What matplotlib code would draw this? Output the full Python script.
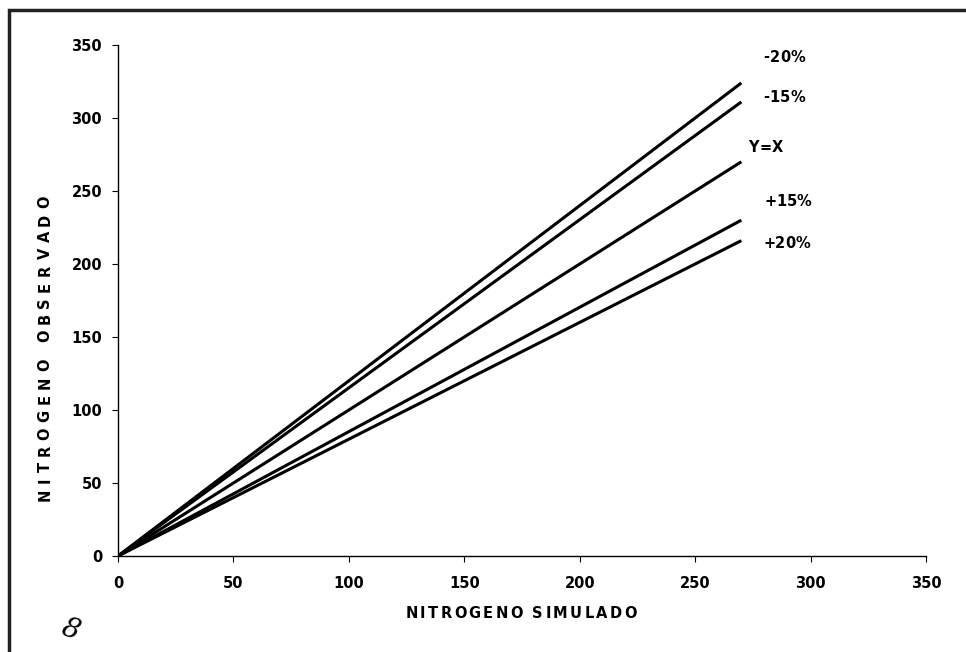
import matplotlib
matplotlib.use('Agg')
import matplotlib.pyplot as plt
from matplotlib.patches import Rectangle
from matplotlib.font_manager import FontProperties
from matplotlib.textpath import TextToPath

plt.rcParams.update({
    'font.family': ['DejaVu Sans'],
    'font.size': 10.5,
    'font.weight': 'bold',
})

# Datos: extremos de las rectas
sim_n = [0, 270]
obs_menos20 = [0, 324]
obs_menos15 = [0, 311]
obs_yx = [0, 270]
obs_mas15 = [0, 230]
obs_mas20 = [0, 216]
series = [obs_menos20, obs_menos15, obs_yx, obs_mas15, obs_mas20]
etiquetas = ['-20%', '-15%', 'Y=X', '+15%', '+20%']
ticks = [0, 50, 100, 150, 200, 250, 300, 350]

W, H, DPI = 966, 652, 100
fig = plt.figure(figsize=(W / DPI, H / DPI), dpi=DPI)
ax = fig.add_axes([118/W, 1 - 556/H, (926 - 118)/W, (556 - 45)/H])

ttp = TextToPath()


def texto_espaciado(xpx, ypx, s, size, ancho, rot=0, ha='center'):
    """Texto repartido en un ancho dado (píxeles, origen arriba-izq)."""
    prop = FontProperties(family='DejaVu Sans', weight='bold', size=size)
    anchos = []
    for c in s:
        if c == ' ':
            anchos.append(0.35 * size * DPI / 72)
        else:
            anchos.append(ttp.get_text_width_height_descent(c, prop, ismath=False)[0] * DPI / 72)
    track = max(0.0, (ancho - sum(anchos)) / (len(s) - 1))
    total = sum(anchos) + track * (len(s) - 1)
    pos = -total / 2 if ha == 'center' else 0
    for c, w in zip(s, anchos):
        centro = pos + w / 2
        if rot == 90:
            fig.text(xpx / W, 1 - (ypx - centro) / H, c, fontproperties=prop,
                     rotation=90, ha='center', va='center')
        else:
            fig.text((xpx + centro) / W, 1 - ypx / H, c, fontproperties=prop,
                     ha='center', va='center')
        pos += w + track


for obs in series:
    ax.plot(sim_n, obs, color='black', linewidth=2.2, solid_capstyle='butt')

ax.set_xlim(0, 350)
ax.set_ylim(0, 350)
ax.set_xticks(ticks)
ax.set_yticks(ticks)
ax.tick_params(direction='out', length=4.5, width=0.8, labelsize=10.5)
ax.tick_params(axis='x', pad=10)
ax.tick_params(axis='y', pad=7)
for lab in ax.get_xticklabels() + ax.get_yticklabels():
    lab.set_fontweight('bold')
for s in ['top', 'right']:
    ax.spines[s].set_visible(False)
for s in ['left', 'bottom']:
    ax.spines[s].set_linewidth(1.0)

# Etiquetas de cada recta (posición y ancho en píxeles del original)
pos_etq = [(763, 57, 42), (763, 97, 42), (748, 147, 35), (764, 202, 46), (763, 243, 46)]
for (xp, yp, an), txt in zip(pos_etq, etiquetas):
    texto_espaciado(xp, yp, txt, 10.5, an, ha='left')

texto_espaciado(45, 348, 'NITROGENO OBSERVADO', 10.5, 305, rot=90)
texto_espaciado(521, 614, 'NITROGENO SIMULADO', 10.5, 231)

# Marca manuscrita
fig.text(70/W, 1 - 630/H, '8', family='DejaVu Serif', fontstyle='italic',
         fontweight='light', fontsize=20, rotation=-20, ha='center', va='center')

# Marco del recorte
fig.add_artist(Rectangle((9/W, -0.2), 1.5, 1 - 10/H + 0.2,
                         transform=fig.transFigure, fill=False,
                         linewidth=2.5, edgecolor='#222222'))

fig.savefig('out.png', dpi=DPI, facecolor='white')
